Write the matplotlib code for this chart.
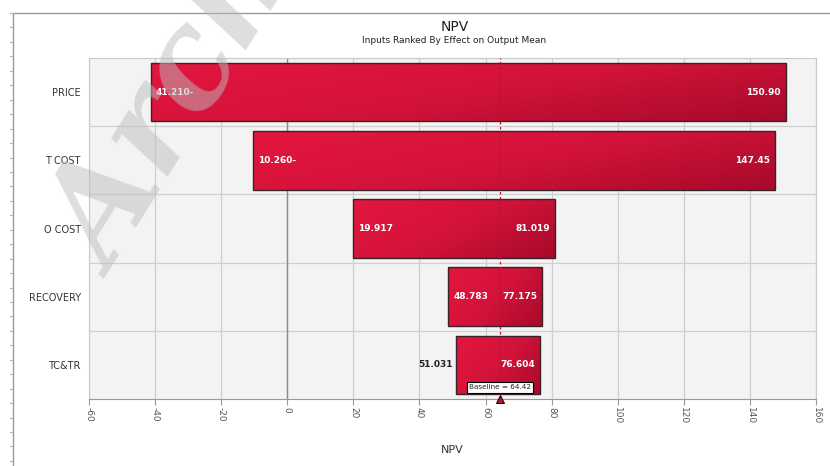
import numpy as np
import matplotlib
matplotlib.use('Agg')
import matplotlib.pyplot as plt
from matplotlib.patches import Rectangle
from matplotlib.lines import Line2D
from matplotlib.colors import LinearSegmentedColormap

plt.rcParams.update({'font.family': 'DejaVu Sans'})

# data
inputs = ['PRICE', 'T COST', 'O COST', 'RECOVERY', 'TC&TR']
low_vals = [-41.210, -10.260, 19.917, 48.783, 51.031]
high_vals = [150.90, 147.45, 81.019, 77.175, 76.604]
low_text = ['41.210-', '10.260-', '19.917', '48.783', '51.031']
high_text = ['150.90', '147.45', '81.019', '77.175', '76.604']
low_inside = [True, True, True, True, False]
baseline = 64.42
xticks = list(range(-60, 161, 20))

fig = plt.figure(figsize=(8.3, 4.66), dpi=100)
ax = fig.add_axes([0.1072, 0.1438, 0.8760, 0.7317])
ax.set_facecolor('#f3f3f3')

# outer frame of the screenshot, with small ruler marks on the left
fig.patches.append(Rectangle((0.0157, -0.01), 1.0, 0.982, transform=fig.transFigure,
                             fill=False, ec='#9a9a9a', lw=1.0))
for yy in np.arange(0.972, 0.0, -0.031):
    fig.lines.append(Line2D([0.0115, 0.0157], [yy, yy], transform=fig.transFigure,
                            color='#b0b0b0', lw=0.8))

cmap = LinearSegmentedColormap.from_list('crimson', ['#e3163f', '#d4133a', '#a60a2b'])
grad = np.add.outer(np.linspace(0, 0.35, 50), np.linspace(0, 0.65, 200))

n = len(inputs)
ypos = np.arange(n)[::-1]
h = 0.86
for y, lo, hi in zip(ypos, low_vals, high_vals):
    rect = Rectangle((lo, y - h / 2), hi - lo, h, fc='none', ec='#3a2228', lw=1.0, zorder=4)
    ax.add_patch(rect)
    im = ax.imshow(grad, cmap=cmap, aspect='auto', extent=(lo, hi, y - h / 2, y + h / 2),
                   origin='upper', zorder=3, vmin=0, vmax=1)
    im.set_clip_path(rect)

for y, lo, hi, lt, ht, inside in zip(ypos, low_vals, high_vals, low_text, high_text, low_inside):
    if inside:
        ax.text(lo + 1.5, y, lt, color='white', fontsize=6.5, fontweight='bold',
                ha='left', va='center', zorder=6)
    else:
        ax.text(lo - 1.0, y, lt, color='#222222', fontsize=6.5, fontweight='bold',
                ha='right', va='center', zorder=6)
    ax.text(hi - 1.5, y, ht, color='white', fontsize=6.5, fontweight='bold',
            ha='right', va='center', zorder=6)

ax.axvline(0, color='#8a8a8a', lw=1.0, zorder=2)
ax.axvline(baseline, color='#c0102e', lw=0.9, ls=(0, (2, 2)), zorder=5)

ax.text(baseline, -0.33, f'Baseline = {baseline:.2f}', fontsize=5.2, ha='center', va='center',
        color='#222222', zorder=7,
        bbox=dict(boxstyle='square,pad=0.3', fc='white', ec='black', lw=0.8))
ax.plot([baseline], [-0.5], marker='^', ms=6, color='#c8102e', mec='black', mew=0.7,
        clip_on=False, zorder=8)

ax.set_xlim(-60, 160)
ax.set_ylim(-0.5, n - 0.5)
ax.set_xticks(xticks)
ax.set_xticklabels([str(t) for t in xticks], rotation=-90, fontsize=6.5, color='#555555')
ax.set_yticks(ypos)
ax.set_yticklabels(inputs, fontsize=7, color='#333333')
ax.tick_params(axis='y', length=0, pad=6)
ax.tick_params(axis='x', length=4, color='#999999', pad=2)
ax.set_yticks(np.arange(n - 1) + 0.5, minor=True)
ax.tick_params(axis='y', which='minor', length=0)
ax.grid(True, axis='x', color='#cfcfcf', lw=0.9, zorder=1)
ax.grid(True, axis='y', which='minor', color='#cfcfcf', lw=0.9, zorder=1)
ax.set_axisbelow(True)
for s in ax.spines.values():
    s.set_color('#c8c8c8')
ax.spines['bottom'].set_color('#999999')

ax.set_xlabel('NPV', fontsize=8, color='#333333', labelpad=15)
fig.text(0.5475, 0.942, 'NPV', ha='center', va='center', fontsize=10, color='#222222')
fig.text(0.5475, 0.914, 'Inputs Ranked By Effect on Output Mean', ha='center', va='center',
         fontsize=6.5, color='#222222')

# watermark (runs off the top edge, as in the source image)
fig.text(0.035, 0.37, 'Archive', rotation=58, fontsize=96, family='DejaVu Serif',
         style='italic', fontweight='bold', color='#bdbdbd', alpha=0.5,
         ha='left', va='bottom', zorder=20)

fig.savefig('out.png', dpi=100)
